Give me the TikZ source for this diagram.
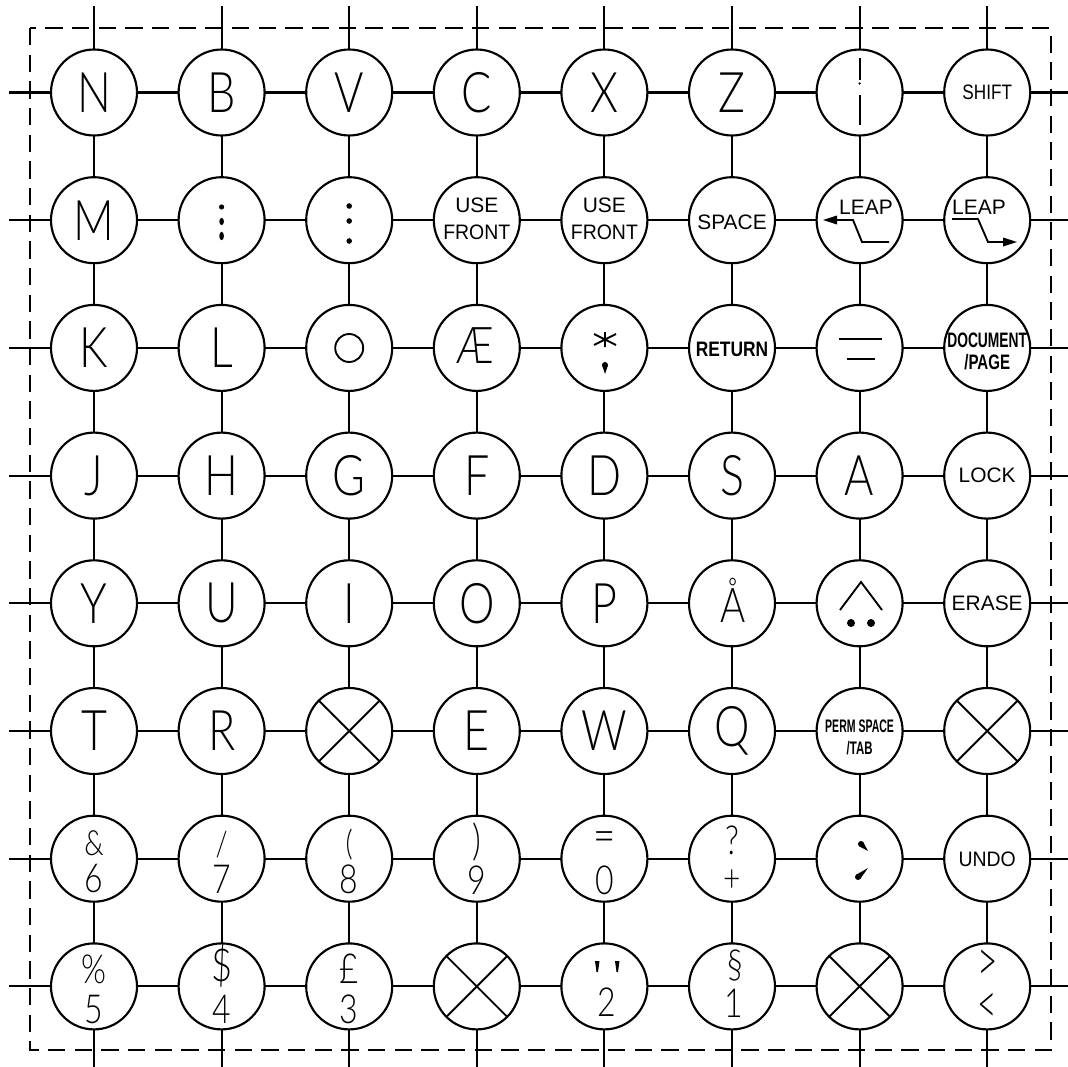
\documentclass[tikz,border=0pt]{standalone}
\usepackage{fontspec}
\setmainfont{Liberation Sans}
\newfontfamily\thinf{Lato Light}
\newcommand\BL[1]{{\thinf\fontsize{42}{42}\selectfont\scalebox{0.8}[1]{#1}}}
\newcommand\SY[2]{{\thinf\fontsize{#1}{#1}\selectfont\scalebox{0.8}[1]{#2}}}
\newcommand\SN[2]{{\thinf\fontsize{#1}{#1}\selectfont\scalebox{0.6}[1]{#2}}}
\begin{document}
\begin{tikzpicture}[x=0.75pt,y=-0.75pt,
  key/.style={circle,draw,line width=1.6pt,minimum size=64.5pt,inner sep=0pt,outer sep=0pt},
  wire/.style={line width=1.6pt},
  glyph/.style={inner sep=0pt,outer sep=0pt},
  lbl/.style={glyph,font=\fontsize{15.7}{20}\selectfont,align=center},
  blbl/.style={glyph,font=\bfseries\fontsize{15.7}{16.5}\selectfont,align=center},
  slbl/.style={glyph,font=\bfseries\fontsize{13.6}{16.5}\selectfont,align=center},
  stroke/.style={line width=1.4pt},
  frame/.style={line width=1.1pt,dash pattern=on 13pt off 7pt}]
\useasboundingbox (0,0) rectangle (1068,1067);
\fill[white] (0,0) rectangle (1068,1067);
\draw[frame] (30,28) rectangle (1051,1050);
% circles
\foreach \rr/\yy in {1/92.5,2/220.2,3/347.9,4/475.6,5/603.3,6/731,7/858.7,8/986.4}{
  \coordinate (L\rr) at (9,\yy);
  \coordinate (R\rr) at (1068,\yy);
  \foreach \cc/\xx in {1/94,2/221.6,3/349.2,4/476.8,5/604.4,6/732,7/859.6,8/987.2}
    \node[key] (c\rr\cc) at (\xx,\yy) {};
}
\foreach \cc/\xx in {1/94,2/221.6,3/349.2,4/476.8,5/604.4,6/732,7/859.6,8/987.2}{
  \coordinate (T\cc) at (\xx,6);
  \coordinate (B\cc) at (\xx,1067);
}
% connectors
\foreach \rr in {1,...,8}{
  \draw[wire] (L\rr) -- (c\rr1);
  \draw[wire] (c\rr8) -- (R\rr);
  \draw[wire] (T\rr) -- (c1\rr);
  \draw[wire] (c8\rr) -- (B\rr);
  \foreach \aa/\bb in {1/2,2/3,3/4,4/5,5/6,6/7,7/8}{
    \draw[wire] (c\rr\aa) -- (c\rr\bb);
    \draw[wire] (c\aa\rr) -- (c\bb\rr);
  }
}
% crossed keys
\foreach \k in {63,68,84,87}
  \draw[stroke] (c\k.north west) -- (c\k.south east) (c\k.north east) -- (c\k.south west);
% row 1
\node[glyph] (t11) at (c11) {\BL{N}};
\node[glyph] (t12) at (c12) {\BL{B}};
\node[glyph] (t13) at (c13) {\BL{V}};
\node[glyph] (t14) at (c14) {\BL{C}};
\node[glyph] (t15) at (c15) {\BL{X}};
\node[glyph] (t16) at (c16) {\BL{Z}};
\draw[stroke] (859.6,58) -- (859.6,80) (859.6,95) -- (859.6,125);
\fill (859.6,83.5) circle (1.3);
\node[lbl] (t18) at (c18) {\scalebox{0.82}[1]{SHIFT}};
% row 2
\node[glyph] (t21) at (c21) {\BL{M}};
\fill (221.6,207) circle (2.6);
\fill (221.6,221.5) ellipse (2.3 and 3.6);
\fill (221.6,236) ellipse (2.3 and 4.2);
\fill (349.2,206) circle (2.8);
\fill (349.2,221) circle (2.8);
\fill (349.2,241) circle (2.8);
\node[lbl] (t24) at (476.8,218.5) {USE\\\scalebox{0.93}[1]{FRONT}};
\node[lbl] (t25) at (604.4,218.5) {USE\\\scalebox{0.93}[1]{FRONT}};
\node[lbl] (t26) at (732,222.5) {SPACE};
\node[lbl] (t27) at (866,207.5) {LEAP};
\draw[stroke] (836,220) -- (853,220) -- (862,242) -- (889,242);
\fill (823,220) -- (837,215.5) -- (837,224.5) -- cycle;
\node[lbl] (t28) at (979,207.5) {LEAP};
\draw[stroke] (952,219) -- (978,219) -- (988,242) -- (1004,242);
\fill (1017,242) -- (1003,237.5) -- (1003,246.5) -- cycle;
% row 3
\node[glyph] (t31) at (c31) {\BL{K}};
\node[glyph] (t32) at (c32) {\BL{L}};
\draw[stroke] (349.2,348) circle (14);
\node[glyph] (t34) at (475,346) {\SY{38}{Æ}};
\draw[stroke] (605,332) -- (605,347) (594,334) -- (616,345) (594,345) -- (616,334);
\fill (605,365) circle (3);
\fill (602,365) -- (608,365) -- (605,374) -- cycle;
\node[blbl] (t36) at (732,349.5) {\scalebox{0.83}[1]{RETURN}};
\draw[stroke] (839,339) -- (882,339) (847,359) -- (875,359);
\node[blbl] (t38) at (987.2,351) {\scalebox{0.66}[1]{DOCUMENT}\\\scalebox{0.72}[1]{/PAGE}};
% row 4
\node[glyph] (t41) at (c41) {\BL{J}};
\node[glyph] (t42) at (c42) {\BL{H}};
\node[glyph] (t43) at (c43) {\BL{G}};
\node[glyph] (t44) at (c44) {\BL{F}};
\node[glyph] (t45) at (c45) {\BL{D}};
\node[glyph] (t46) at (c46) {\BL{S}};
\node[glyph] (t47) at (c47) {\BL{A}};
\node[lbl] (t48) at (c48) {LOCK};
% row 5
\node[glyph] (t51) at (c51) {\BL{Y}};
\node[glyph] (t52) at (c52) {\BL{U}};
\node[glyph] (t53) at (c53) {\BL{I}};
\node[glyph] (t54) at (c54) {\BL{O}};
\node[glyph] (t55) at (c55) {\BL{P}};
\node[glyph] (t56) at (733,600) {\SY{36}{Å}};
\draw[stroke] (840,610) -- (861,582) -- (882,610);
\fill (851,623) circle (4) (871,623) circle (4);
\node[lbl] (t58) at (c58) {ERASE};
% row 6
\node[glyph] (t61) at (c61) {\BL{T}};
\node[glyph] (t62) at (c62) {\BL{R}};
\node[glyph] (t64) at (c64) {\BL{E}};
\node[glyph] (t65) at (c65) {\BL{W}};
\node[glyph] (t66) at (c66) {\BL{Q}};
\node[slbl] (t67) at (859.6,737.5) {\scalebox{0.58}[1]{PERM SPACE}\\\scalebox{0.63}[1]{/TAB}};
% row 7
\node[glyph] (u71) at (94,843) {\SY{26}{\&}};
\node[glyph] (d71) at (94,879) {\SY{30}{6}};
\node[glyph] (u72) at (221.6,845) {\SY{26}{/}};
\node[glyph] (d72) at (221.6,879) {\SY{30}{7}};
\node[glyph] (u73) at (349.2,845) {\SY{26}{(}};
\node[glyph] (d73) at (349.2,879.5) {\SY{30}{8}};
\node[glyph] (u74) at (476.8,842) {\SY{32}{)}};
\node[glyph] (d74) at (476.8,880) {\SY{30}{9}};
\node[glyph] (u75) at (604.4,842) {\SY{36}{=}};
\node[glyph] (d75) at (604.4,880) {\SY{30}{0}};
\node[glyph] (u76) at (732,840) {\SY{30}{?}};
\node[glyph] (d76) at (732,880.5) {\SY{28}{+}};
\fill (861,844) circle (3);
\fill (858.9,846.1) -- (863.1,841.9) -- (868,851) -- cycle;
\fill (858,877) circle (3);
\fill (860,879.2) -- (856,874.8) -- (868,868) -- cycle;
\node[lbl] (t78) at (987.2,859.5) {\scalebox{0.93}[1]{UNDO}};
% row 8
\node[glyph] (u81) at (94,969) {\SY{30}{\%}};
\node[glyph] (d81) at (94,1009.5) {\SY{30}{5}};
\node[glyph] (u82) at (221.6,966) {\SY{34}{\$}};
\node[glyph] (d82) at (221.6,1009.5) {\SY{30}{4}};
\node[glyph] (u83) at (349.2,968.5) {\SY{31}{£}};
\node[glyph] (d83) at (349.2,1009.5) {\SY{30}{3}};
\fill (595,961) -- (599.5,961) -- (598,972) -- (596.5,972) -- cycle;
\fill (615,961) -- (619.5,961) -- (618,972) -- (616.5,972) -- cycle;
\node[glyph] (d85) at (607,1002.5) {\SY{30}{2}};
\node[glyph] (u86) at (735,965.5) {\SY{30}{§}};
\node[glyph] (d86) at (734,1003.5) {\SY{30}{1}};
\node[glyph] (u88) at (987.2,966) {\SN{44}{>}};
\node[glyph] (d88) at (987.2,1008.5) {\SN{42}{<}};
\end{tikzpicture}
\end{document}
